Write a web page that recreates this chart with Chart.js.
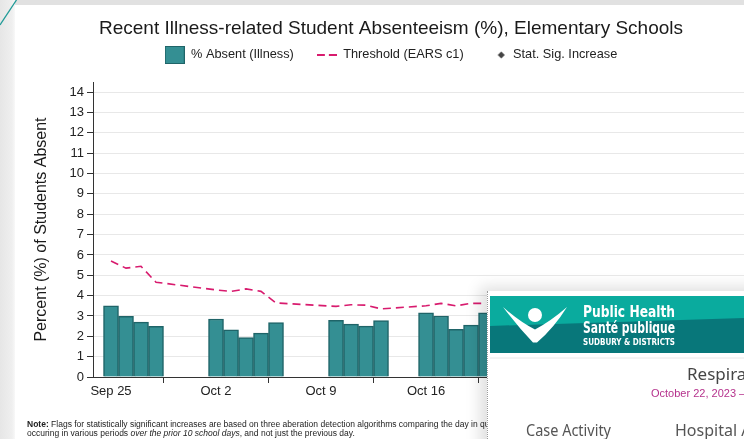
<!DOCTYPE html>
<html><head><meta charset="utf-8">
<script src="https://cdn.jsdelivr.net/npm/chart.js@4.4.0/dist/chart.umd.min.js"></script>
<style>
html,body{margin:0;padding:0;width:744px;height:439px;overflow:hidden;background:#fff;font-family:"Liberation Sans",Arial,sans-serif;}
#cw{position:absolute;left:0;top:0;width:782px;height:439px;z-index:1;}
#note{position:absolute;left:27px;top:419.5px;width:460px;overflow:hidden;white-space:nowrap;font-size:8.5px;line-height:9.6px;color:#222;z-index:2;}
#panel{position:absolute;left:487px;top:291px;width:300px;height:200px;background:#fff;border-left:1px dotted #9a9a9a;box-shadow:-7px -4px 14px rgba(0,0,0,0.13);z-index:3;}
#deco{position:absolute;left:0;top:0;width:744px;height:439px;z-index:4;pointer-events:none;}
</style></head>
<body>
<div id="cw"><canvas id="c" width="782" height="439"></canvas></div>
<div id="note"><b>Note:</b> Flags for statistically significant increases are based on three aberation detection algorithms comparing the day in question<br>occuring in various periods <i>over the prior 10 school days</i>, and not just the previous day.</div>
<div id="panel"></div>
<svg id="deco" width="744" height="439" xmlns="http://www.w3.org/2000/svg">
  <defs>
    <linearGradient id="lg" x1="0" x2="1" y1="0" y2="0"><stop offset="0" stop-color="#e6e6e6"/><stop offset="0.8" stop-color="#efefef"/><stop offset="1" stop-color="#f8f8f8"/></linearGradient>
  </defs>
  <rect x="0" y="0" width="744" height="5" fill="#e1e1e1"/>
  <rect x="0" y="0" width="15" height="439" fill="url(#lg)"/>
  <line x1="0" y1="25" x2="16.5" y2="0" stroke="#1f9a97" stroke-width="1.3"/>
  <rect x="490" y="296" width="260" height="57" fill="#0aab9e"/>
  <polygon points="490,326 744,318 744,353 490,353" fill="#08777a"/>
  <path d="M503,307 Q520,322 535,329.5 Q551,321 567,307 Q554,328 537,342.5 L533,342.5 Q518,327 503,307 Z" fill="#fff"/>
  <circle cx="535" cy="315" r="7" fill="#fff"/>
  <g font-family="'Liberation Sans Narrow','DejaVu Sans Condensed','Liberation Sans',sans-serif" fill="#fff" font-weight="bold">
    <text x="583" y="317" font-size="15" textLength="92" lengthAdjust="spacingAndGlyphs">Public Health</text>
    <text x="583" y="332.5" font-size="15" textLength="92" lengthAdjust="spacingAndGlyphs">Santé publique</text>
    <text x="583" y="345" font-size="8.5" textLength="92" lengthAdjust="spacingAndGlyphs">SUDBURY &amp; DISTRICTS</text>
  </g>
  <line x1="490" y1="358" x2="744" y2="358" stroke="#e8e8e8" stroke-width="1"/>
  <text x="687" y="380" font-family="'Noto Sans','Open Sans',sans-serif" font-size="17" fill="#454545">Respiratory</text>
  <text x="651" y="397" font-family="'Liberation Sans',Arial,sans-serif" font-size="11" fill="#b5318c">October 22, 2023 – October 28, 2023</text>
  <text x="526" y="436" font-family="'Noto Sans','Open Sans',sans-serif" font-size="16" fill="#555" textLength="85" lengthAdjust="spacingAndGlyphs">Case Activity</text>
  <text x="675" y="436" font-family="'Noto Sans','Open Sans',sans-serif" font-size="16" fill="#555">Hospital Activity</text>
</svg>
<script>
// ---- data ----
const schoolDays = ['2023-09-25','2023-09-26','2023-09-27','2023-09-28',
  '2023-10-02','2023-10-03','2023-10-04','2023-10-05','2023-10-06',
  '2023-10-10','2023-10-11','2023-10-12','2023-10-13',
  '2023-10-16','2023-10-17','2023-10-18','2023-10-19','2023-10-20'];
const absentPct = [3.50,2.98,2.70,2.49, 2.85,2.32,1.94,2.16,2.68, 2.78,2.60,2.50,2.77, 3.16,3.00,2.34,2.55,3.15];
const thresholdPct = [5.70,5.35,5.44,4.66, 4.28,4.21,4.33,4.21,3.64, 3.47,3.55,3.53,3.35, 3.50,3.62,3.50,3.62,3.62];
const sigIncreaseDays = [];
const sigIncreasePct = [];
const tickDates = ['2023-09-25','2023-10-02','2023-10-09','2023-10-16','2023-10-23','2023-10-30','2023-11-06'];
const tickLabels = ['Sep 25','Oct 2','Oct 9','Oct 16','Oct 23','Oct 30','Nov 6'];
const yTickValues = [0,1,2,3,4,5,6,7,8,9,10,11,12,13,14];
const legendLabels = ['% Absent (Illness)','Threshold (EARS c1)','Stat. Sig. Increase'];

const base = Date.parse('2023-09-25');
const dayIdx = d => Math.round((Date.parse(d) - base) / 864e5);
const tickPos = tickDates.map(dayIdx);

const barFill = '#348f93', barEdge = '#1f6468', pink = '#d81b6e';
const FONT = "'Liberation Sans', Arial, sans-serif";

function icon(w, h, draw){ const c = document.createElement('canvas'); c.width = w; c.height = h; draw(c.getContext('2d')); return c; }
const iconBox = icon(20, 18, g => { g.fillStyle = barFill; g.fillRect(0,0,20,18); g.strokeStyle = barEdge; g.lineWidth = 1; g.strokeRect(0.5,0.5,19,17); });
const iconDash = icon(20, 4, g => { g.strokeStyle = pink; g.lineWidth = 2; g.beginPath(); g.moveTo(0,2); g.lineTo(8,2); g.moveTo(12,2); g.lineTo(20,2); g.stroke(); });
const iconDiamond = icon(20, 10, g => { g.fillStyle = '#444'; g.beginPath(); g.moveTo(14.5,1.5); g.lineTo(18,5); g.lineTo(14.5,8.5); g.lineTo(11,5); g.closePath(); g.fill(); });
const icons = [iconBox, iconDash, iconDiamond];

new Chart(document.getElementById('c'), {
  data: {
    datasets: [
      { type: 'bar', label: legendLabels[0], data: schoolDays.map((d,i) => ({x: dayIdx(d), y: absentPct[i]})),
        backgroundColor: barFill, borderColor: barEdge, borderWidth: 1.5, barPercentage: 1, categoryPercentage: 1, order: 2 },
      { type: 'line', label: legendLabels[1], data: schoolDays.map((d,i) => ({x: dayIdx(d), y: thresholdPct[i]})),
        borderColor: pink, borderWidth: 1.6, borderDash: [8,5], pointRadius: 0, tension: 0, fill: false, order: 1 },
      { type: 'line', label: legendLabels[2], data: sigIncreaseDays.map((d,i) => ({x: dayIdx(d), y: sigIncreasePct[i]})),
        showLine: false, pointStyle: 'rectRot', pointRadius: 4, backgroundColor: '#444', borderColor: '#444', order: 0 }
    ]
  },
  options: {
    responsive: false, animation: false, devicePixelRatio: 1,
    layout: { padding: 0 },
    plugins: {
      title: { display: true, text: 'Recent Illness-related Student Absenteeism (%), Elementary Schools',
        color: '#1a1a1a', font: { family: FONT, size: 19, weight: 'normal', lineHeight: 1.2 },
        padding: { top: 17, bottom: -14.2 } },
      legend: { display: true, position: 'top',
        labels: { usePointStyle: true, pointStyleWidth: 20, padding: 23, color: '#222',
          font: { family: FONT, size: 12.75 },
          generateLabels: () => legendLabels.map((t,i) => ({ text: t, pointStyle: icons[i], datasetIndex: i, hidden: false,
            fillStyle: 'rgba(0,0,0,0)', strokeStyle: 'rgba(0,0,0,0)', lineWidth: 0, fontColor: '#222' })) } },
      tooltip: { enabled: false }
    },
    scales: {
      x: { type: 'linear', position: 'bottom', min: -1.2, max: 44.73, offset: false,
        afterFit: s => { s.height = 62; },
        afterBuildTicks: s => { s.ticks = tickPos.map(v => ({value: v})); },
        grid: { display: true, drawOnChartArea: false, drawTicks: true, tickLength: 6, tickColor: '#333', lineWidth: 1 },
        border: { display: true, color: '#333', width: 1 },
        ticks: { padding: 1, color: '#222', font: { family: FONT, size: 13 }, maxRotation: 0, autoSkip: false,
          callback: v => { const k = tickPos.indexOf(v); return k >= 0 ? tickLabels[k] : ''; } } },
      xTop: { type: 'linear', axis: 'x', position: 'top', display: true, min: 0, max: 1,
        afterFit: s => { s.height = 10.65; },
        grid: { display: false }, border: { display: false }, ticks: { display: false } },
      y: { type: 'linear', min: 0, max: 14.5,
        afterFit: s => { s.width = 93; },
        afterBuildTicks: s => { s.ticks = yTickValues.map(v => ({value: v})); },
        grid: { color: '#e8e8e8', lineWidth: 1, tickColor: '#333', tickLength: 6, drawTicks: true },
        border: { display: true, color: '#333', width: 1 },
        ticks: { padding: 3, color: '#222', font: { family: FONT, size: 13 }, autoSkip: false },
        title: { display: true, text: 'Percent (%) of Students Absent', color: '#1a1a1a',
          font: { family: FONT, size: 16 }, padding: { top: 32, bottom: 0 } } }
    }
  }
});
</script>
</body></html>
